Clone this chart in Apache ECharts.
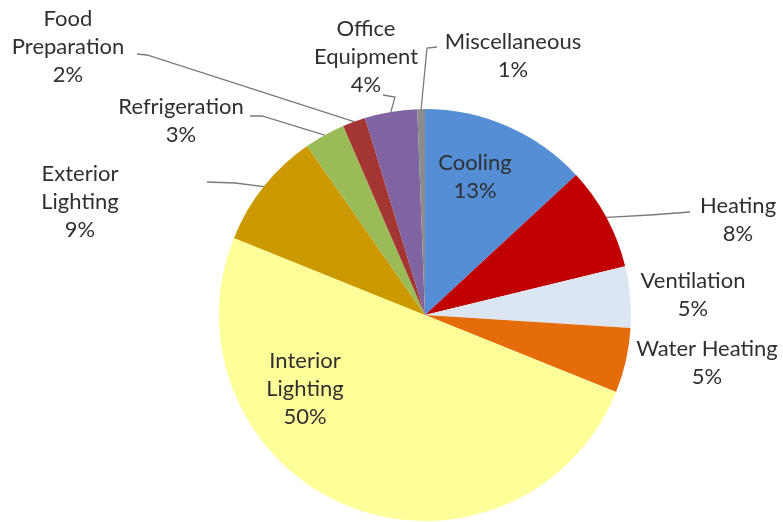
<!DOCTYPE html>
<html>
<head>
<meta charset="utf-8">
<script src="https://cdn.jsdelivr.net/npm/echarts@6/dist/echarts.min.js"></script>
<style>
  html, body { margin: 0; padding: 0; background: #fff; }
  #chart { width: 783px; height: 522px; }
</style>
</head>
<body>
<div id="chart"></div>
<script>
// end uses, clockwise from 12 o'clock
var categories = ['Cooling', 'Heating', 'Ventilation', 'Water Heating', 'Interior Lighting',
  'Exterior Lighting', 'Refrigeration', 'Food Preparation', 'Office Equipment', 'Miscellaneous'];
// share of energy use (%)
var shares = [13.1, 8.1, 4.8, 5.1, 50.0, 9.2, 3.2, 1.8, 4.1, 0.6];
// percent shown in the labels
var shownPct = [13, 8, 5, 5, 50, 9, 3, 2, 4, 1];
var labelNames = ['Cooling', 'Heating', 'Ventilation', 'Water Heating', 'Interior\nLighting',
  'Exterior\nLighting', 'Refrigeration', 'Food\nPreparation', 'Office\nEquipment', 'Miscellaneous'];

var colors = ['#558ED5', '#C00000', '#DCE6F2', '#E46C0A', '#FFFF99',
  '#CC9900', '#9BBB59', '#A33532', '#8064A2', '#8C8C8C'];

// label centres (px)
var labelPos = [[475, 177], [738, 220], [693, 295], [707, 363], [305, 389],
  [80, 202], [181, 121], [68, 47], [366, 57], [513, 56]];
// leader line points going out from the slice edge (null = no line)
var leaderPts = [null, [[650, 215], [690, 212]], null, null, null,
  [[235, 183], [207, 182]], [[262, 116], [250, 116]], [[147, 55], [137, 54]],
  [[395, 97], [383, 95]], [[427, 48], [437, 47]]];
var insideLabels = [0, 4];

var chart = echarts.init(document.getElementById('chart'));

var data = categories.map(function (name, i) {
  var item = {
    name: name,
    value: shares[i],
    itemStyle: { color: colors[i] }
  };
  if (insideLabels.indexOf(i) >= 0) {
    item.label = { position: 'inside' };
  }
  if (!leaderPts[i]) {
    item.labelLine = { show: false };
  }
  return item;
});

var option = {
  animation: false,
  backgroundColor: '#ffffff',
  series: [{
    type: 'pie',
    center: [425, 315],
    radius: 206,
    startAngle: 90,
    clockwise: true,
    avoidLabelOverlap: false,
    data: data,
    itemStyle: { borderWidth: 0 },
    label: {
      show: true,
      position: 'outside',
      color: '#303030',
      fontFamily: 'Lato',
      fontSize: 22,
      lineHeight: 28,
      align: 'center',
      formatter: function (p) {
        return labelNames[p.dataIndex] + '\n' + shownPct[p.dataIndex] + '%';
      }
    },
    labelLine: {
      show: true,
      length: 10,
      length2: 10,
      lineStyle: { color: '#7a7a7a', width: 1.3 }
    },
    labelLayout: function (params) {
      var i = params.dataIndex;
      var out = {
        x: labelPos[i][0],
        y: labelPos[i][1],
        align: 'center',
        verticalAlign: 'middle'
      };
      if (leaderPts[i] && params.labelLinePoints) {
        var p0 = params.labelLinePoints[0];
        out.labelLinePoints = [p0].concat(leaderPts[i]);
      }
      return out;
    }
  }]
};

chart.setOption(option);
</script>
</body>
</html>
